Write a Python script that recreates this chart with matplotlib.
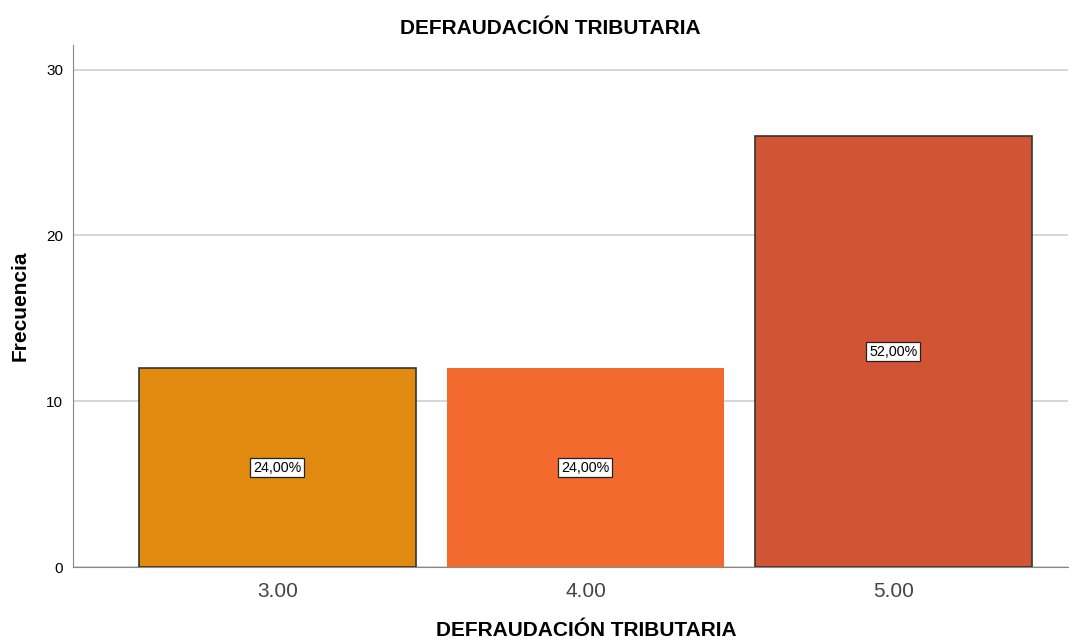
import matplotlib.pyplot as plt

plt.rcParams["font.family"] = ["Liberation Sans", "DejaVu Sans"]

categorias = ["3.00", "4.00", "5.00"]
frecuencias = [12, 12, 26]
porcentajes = ["24,00%", "24,00%", "52,00%"]
colores = ["#E08A10", "#F26A2E", "#D15535"]
bordes = ["#333333", "none", "#333333"]

fig = plt.figure(figsize=(10.84, 6.4), dpi=100)
ax = fig.add_axes([0.0673, 0.114, 0.918, 0.816])

pos = range(len(categorias))
for i in pos:
    ax.bar(i, frecuencias[i], width=0.9, color=colores[i],
           edgecolor=bordes[i], linewidth=1.2, zorder=3)
    ax.text(i, frecuencias[i] / 2, porcentajes[i], ha="center", va="center",
            fontsize=10.3, zorder=4,
            bbox=dict(boxstyle="square,pad=0.2", fc="white", ec="#222222", lw=0.9))

ax.set_xlim(-0.664, 2.567)
ax.set_ylim(0, 31.5)
ax.set_yticks([0, 10, 20, 30])
ax.set_xticks(list(pos))
ax.set_xticklabels(categorias, fontsize=15, color="#444444")
ax.tick_params(axis="y", labelsize=11, length=0, pad=7)
ax.tick_params(axis="x", length=0, pad=11)
ax.grid(axis="y", color="#D0D0D0", linewidth=1.2, zorder=0)

for s in ["top", "right"]:
    ax.spines[s].set_visible(False)
for s in ["left", "bottom"]:
    ax.spines[s].set_color("#888888")

fig.text(550 / 1084, 1 - 28 / 640, "DEFRAUDACIÓN TRIBUTARIA", fontsize=15,
         fontweight="bold", ha="center", va="center")
fig.text(586 / 1084, 1 - 631 / 640, "DEFRAUDACIÓN TRIBUTARIA", fontsize=15,
         fontweight="bold", ha="center", va="center")
ax.set_ylabel("Frecuencia", fontsize=15, fontweight="bold", labelpad=12)

fig.savefig("out.png", dpi=100)
